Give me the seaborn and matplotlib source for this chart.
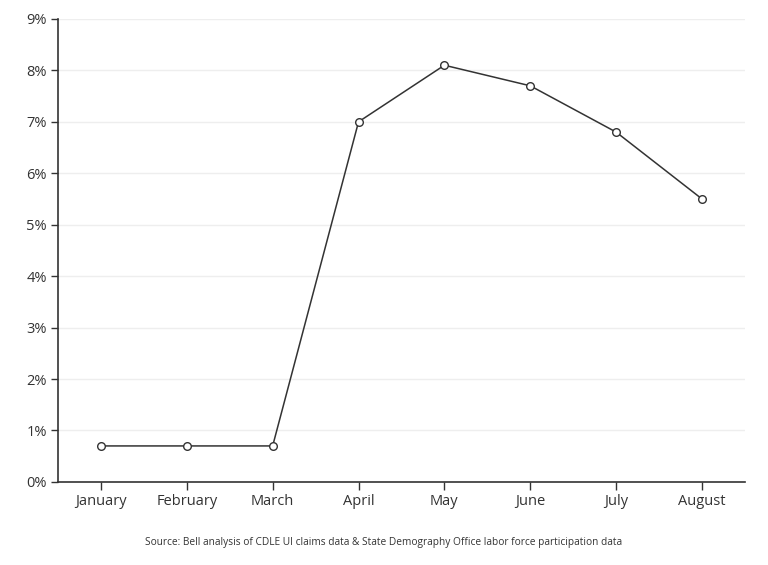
import pandas as pd
import seaborn as sns
import matplotlib.pyplot as plt
from matplotlib.ticker import FuncFormatter

months = ['January', 'February', 'March', 'April', 'May', 'June', 'July', 'August']
rate = [0.7, 0.7, 0.7, 7.0, 8.1, 7.7, 6.8, 5.5]
y_ticks = list(range(0, 10))
source = 'Source: Bell analysis of CDLE UI claims data & State Demography Office labor force participation data'


def main():
    sns.set_theme(style='white')
    plt.rcParams['font.family'] = ['Open Sans', 'DejaVu Sans']

    df = pd.DataFrame({'month': months, 'rate': rate})

    fig = plt.figure(figsize=(7.68, 5.65), dpi=100)
    ax = fig.add_axes([0.0755, 0.147, 0.8945, 0.8195])

    sns.lineplot(x='month', y='rate', data=df, ax=ax, color='#333333', linewidth=1.1,
                 marker='o', markersize=5.5, markerfacecolor='white',
                 markeredgecolor='#333333', markeredgewidth=1.0, sort=False)

    ax.set_xlim(-0.5, len(months) - 0.5)
    ax.set_ylim(0, 9)
    ax.set_yticks(y_ticks)
    ax.yaxis.set_major_formatter(FuncFormatter(lambda v, p: f'{int(v)}%'))
    ax.grid(axis='y', color='#eeeeee', linewidth=1)
    ax.set_axisbelow(True)
    ax.set_xlabel('')
    ax.set_ylabel('')

    for side in ['top', 'right']:
        ax.spines[side].set_visible(False)
    for side in ['left', 'bottom']:
        ax.spines[side].set_color('#333333')
        ax.spines[side].set_linewidth(1.2)

    ax.tick_params(axis='both', colors='#333333', labelsize=10.5, length=6, width=1,
                   direction='out', left=True, bottom=True)
    ax.tick_params(axis='x', pad=2.5)
    ax.tick_params(axis='y', pad=3, length=5)

    fig.text(0.5, 0.04, source, ha='center', va='center', fontsize=7.3, color='#333333')

    fig.savefig('out.png', dpi=100)


if __name__ == '__main__':
    main()
